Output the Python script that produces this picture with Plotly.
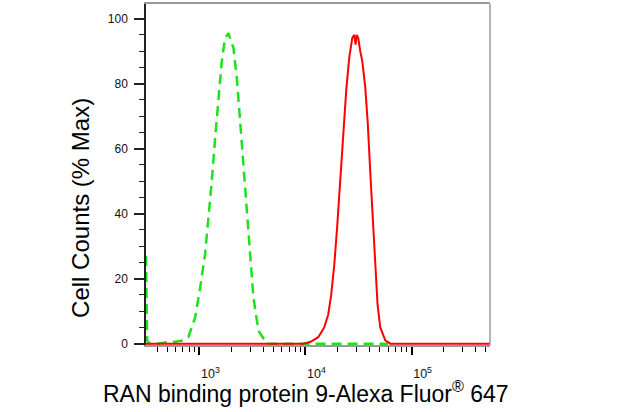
import plotly.graph_objects as go

# ---- data ----
green_x = [314, 322, 340, 400, 500, 600, 700, 787, 911, 1015, 1132, 1216, 1309, 1406,
           1511, 1626, 1746, 1878, 2095, 2254, 2422, 2602, 2800, 3007, 3231, 3604,
           4325, 6000, 10000, 20000, 40000, 60000]
green_y = [27, 1, 0, 0, 0.5, 0.6, 1, 2, 8, 17, 27.6, 37.7, 50, 63, 75.5, 86.8, 94,
           95.5, 91, 81.7, 68.4, 55.2, 41.8, 27.6, 14.2, 4, 0, 0, 0, 0, 0, 0]

red_x = [314, 1000, 5000, 9510, 11070, 13190, 15020, 16380, 17470, 18650, 19900,
         21250, 22680, 24220, 25850, 27590, 28790, 29630, 30410, 31430, 32800,
         34270, 36560, 38610, 40760, 43230, 45470, 47780, 50690, 56520, 62990,
         100000, 550000]
red_y = [0, 0, 0, 0, 0.5, 2, 5, 9, 15, 24, 36, 50, 65, 78, 88, 94, 95, 92, 95, 94,
         90, 87, 79, 68, 53, 38, 22, 12, 5, 1, 0, 0, 0]

x_major = [1e3, 1e4, 1e5]
x_major_text = ["10<sup>3</sup>", "10<sup>4</sup>", "10<sup>5</sup>"]
x_minor = [300, 400, 500, 600, 700, 800, 900,
           2000, 3000, 4000, 5000, 6000, 7000, 8000, 9000,
           20000, 30000, 40000, 50000, 60000, 70000, 80000, 90000,
           200000, 300000, 400000, 500000]
y_ticks = [0, 20, 40, 60, 80, 100]

x_title = "RAN binding protein 9-Alexa Fluor<sup>®</sup> 647"
y_title = "Cell Counts (% Max)"

FONT = "Arial, Liberation Sans, sans-serif"

fig = go.Figure()
fig.add_trace(go.Scatter(x=green_x, y=green_y, mode="lines",
                         line=dict(color="rgb(30,225,30)", width=2.5, dash="10px,6px"),
                         showlegend=False))
fig.add_trace(go.Scatter(x=red_x, y=red_y, mode="lines",
                         line=dict(color="rgb(255,0,0)", width=2),
                         showlegend=False))

fig.update_layout(
    width=617, height=412,
    margin=dict(l=146, r=127, t=2, b=67),
    paper_bgcolor="white", plot_bgcolor="white",
    font=dict(family=FONT, color="black"),
    xaxis=dict(type="log", range=[2.497, 5.739],
               tickmode="array", tickvals=x_major, ticktext=x_major_text,
               ticks="outside", ticklen=8, tickwidth=2, tickcolor="black",
               tickfont=dict(size=12.5, color="#111"),
               ticklabelshift=11, ticklabelstandoff=8,
               minor=dict(tickmode="array", tickvals=x_minor, ticks="outside",
                          ticklen=5, tickwidth=1, tickcolor="black"),
               showgrid=False, zeroline=False,
               showline=True, linecolor="#999", linewidth=1.5, mirror=True),
    yaxis=dict(range=[-0.4, 104.5], tickmode="array", tickvals=y_ticks,
               ticks="outside", ticklen=10, tickwidth=2, tickcolor="#222",
               tickfont=dict(size=12, color="#111"), ticklabelstandoff=4,
               minor=dict(dtick=5, ticks="outside", ticklen=5, tickwidth=1,
                          tickcolor="#222"),
               showgrid=False, zeroline=False,
               showline=True, linecolor="#222", linewidth=1.5),
    shapes=[dict(type="line", xref="paper", yref="paper", x0=1, x1=1, y0=0, y1=1,
                 line=dict(color="#999", width=1.5))],
    annotations=[
        dict(text=x_title, xref="paper", yref="paper", x=0.465, y=-0.137,
             xanchor="center", yanchor="middle", showarrow=False,
             font=dict(size=23, family=FONT, color="black")),
        dict(text=y_title, xref="paper", yref="paper", x=-0.189, y=0.402,
             xanchor="center", yanchor="middle", showarrow=False, textangle=-90,
             font=dict(size=24, family=FONT, color="black")),
    ],
)

fig.write_html("out.html", config={"displayModeBar": False},
               post_script="document.body.style.margin='0';document.body.style.overflow='hidden';")
